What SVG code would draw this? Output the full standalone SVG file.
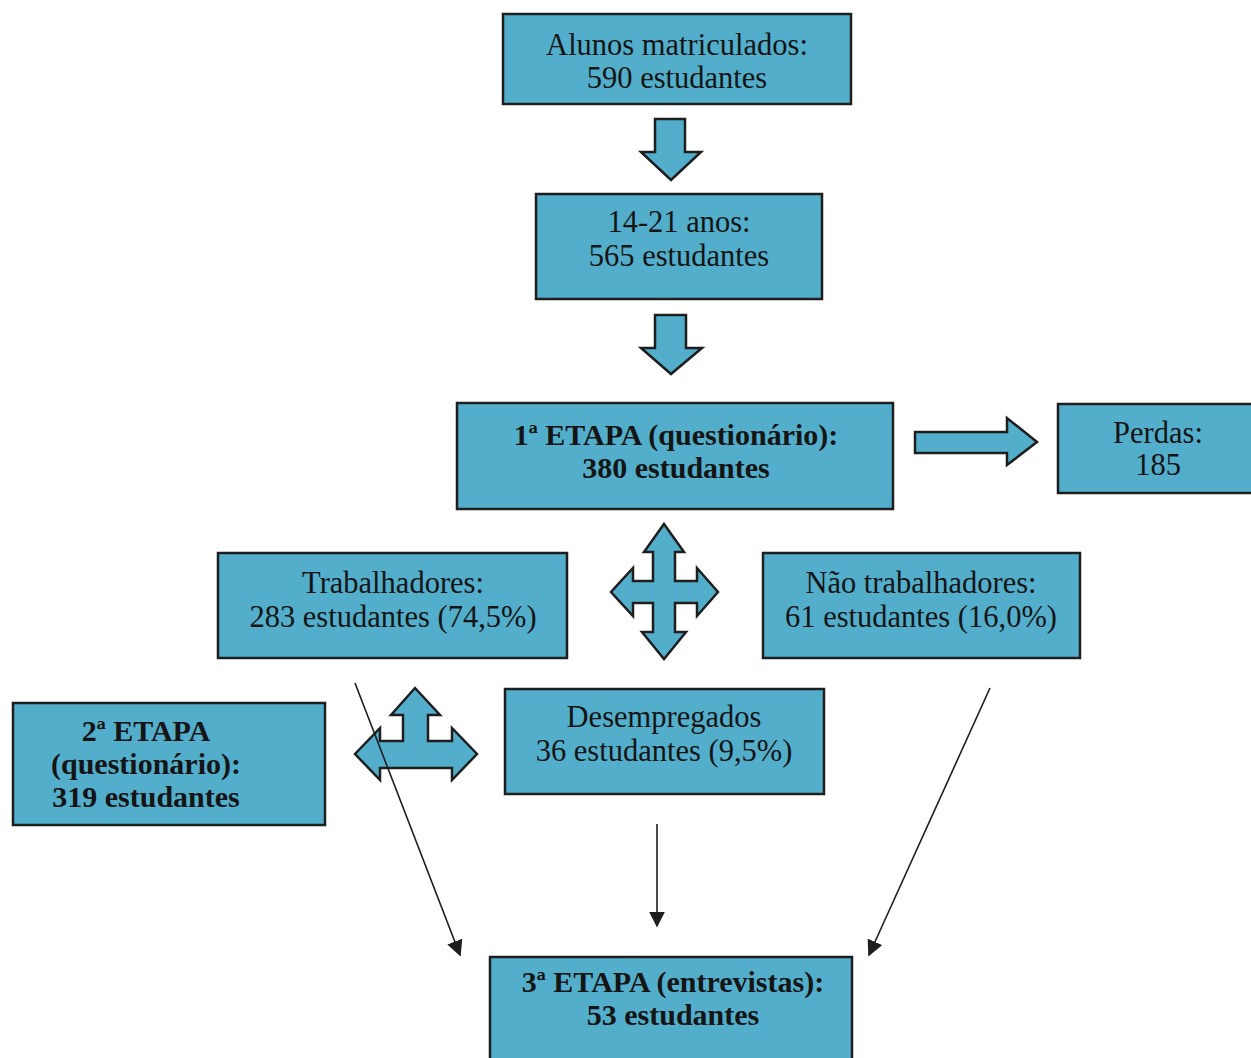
<svg xmlns="http://www.w3.org/2000/svg" width="1251" height="1058" viewBox="0 0 1251 1058">
<style>
.box{fill:#52aecb;stroke:#1e1e1e;stroke-width:2.5}
.blk{fill:#52aecb;stroke:#1e1e1e;stroke-width:2.5;stroke-linejoin:miter}
text{font-family:"Liberation Serif","Times New Roman",serif;font-size:30.5px;fill:#151515;text-anchor:middle}
.b{font-weight:bold;font-size:30px}
.ln{stroke:#1e1e1e;stroke-width:1.6;fill:none}
</style>
<defs>
<marker id="ah2" viewBox="0 0 10 10" refX="9" refY="5" markerWidth="16" markerHeight="16" markerUnits="userSpaceOnUse" orient="auto">
<path d="M0,0 L10,5 L0,10 z" fill="#1e1e1e"/>
</marker>
</defs>
<rect width="1251" height="1058" fill="#ffffff"/>
<g id="n-alunos">
<rect class="box" x="503" y="14" width="348" height="90"/>
<text x="677" y="55">Alunos matriculados:</text>
<text x="677" y="88">590 estudantes</text>
</g>
<g id="n-idade">
<rect class="box" x="536" y="194" width="286" height="105"/>
<text x="679" y="232">14-21 anos:</text>
<text x="679" y="266">565 estudantes</text>
</g>
<g id="n-etapa1">
<rect class="box" x="457" y="403" width="436" height="106"/>
<text class="b" x="676" y="445">1ª ETAPA (questionário):</text>
<text class="b" x="676" y="478">380 estudantes</text>
</g>
<g id="n-perdas">
<rect class="box" x="1058" y="404" width="196" height="89"/>
<text x="1158" y="443">Perdas:</text>
<text x="1158" y="475">185</text>
</g>
<g id="n-trab">
<rect class="box" x="218" y="553" width="349" height="105"/>
<text x="393" y="593">Trabalhadores:</text>
<text x="393" y="627">283 estudantes (74,5%)</text>
</g>
<g id="n-naotrab">
<rect class="box" x="763" y="553" width="317" height="105"/>
<text x="921" y="593">Não trabalhadores:</text>
<text x="921" y="627">61 estudantes (16,0%)</text>
</g>
<g id="n-desemp">
<rect class="box" x="505" y="689" width="319" height="105"/>
<text x="664" y="727">Desempregados</text>
<text x="664" y="761">36 estudantes (9,5%)</text>
</g>
<g id="n-etapa2">
<rect class="box" x="13" y="703" width="312" height="122"/>
<text class="b" x="146" y="741">2ª ETAPA</text>
<text class="b" x="146" y="774">(questionário):</text>
<text class="b" x="146" y="807">319 estudantes</text>
</g>
<g id="n-etapa3">
<rect class="box" x="490" y="957" width="362" height="110"/>
<text class="b" x="673" y="992">3ª ETAPA (entrevistas):</text>
<text class="b" x="673" y="1025">53 estudantes</text>
</g>
<g id="connectors">
<polygon class="blk" points="655,119 685,119 685,152 701,152 671,180 641,152 655,152"/>
<polygon class="blk" points="655,315 686,315 686,348 702,348 671,374 641,348 655,348"/>
<polygon class="blk" points="915,432 1007,432 1007,418 1037,442 1007,465 1007,453 915,453"/>
<polygon class="blk" points="664,524 684,552 675,552 675,581 697,581 697,568 718,592 697,616 697,603 675,603 675,632 686,632 664,659 642,632 653,632 653,603 633,603 633,616 611,592 633,568 633,581 653,581 653,552 644,552"/>
<polygon class="blk" points="415,688 440,715 428,715 428,741 452,741 452,728 477,754 452,780 452,768 380,768 380,780 355,754 380,728 380,741 403,741 403,715 391,715"/>
<line class="ln" marker-end="url(#ah2)" x1="355" y1="683" x2="460" y2="955"/>
<line class="ln" marker-end="url(#ah2)" x1="657" y1="824" x2="657" y2="926"/>
<line class="ln" marker-end="url(#ah2)" x1="990" y1="688" x2="869" y2="955"/>
</g>
</svg>
